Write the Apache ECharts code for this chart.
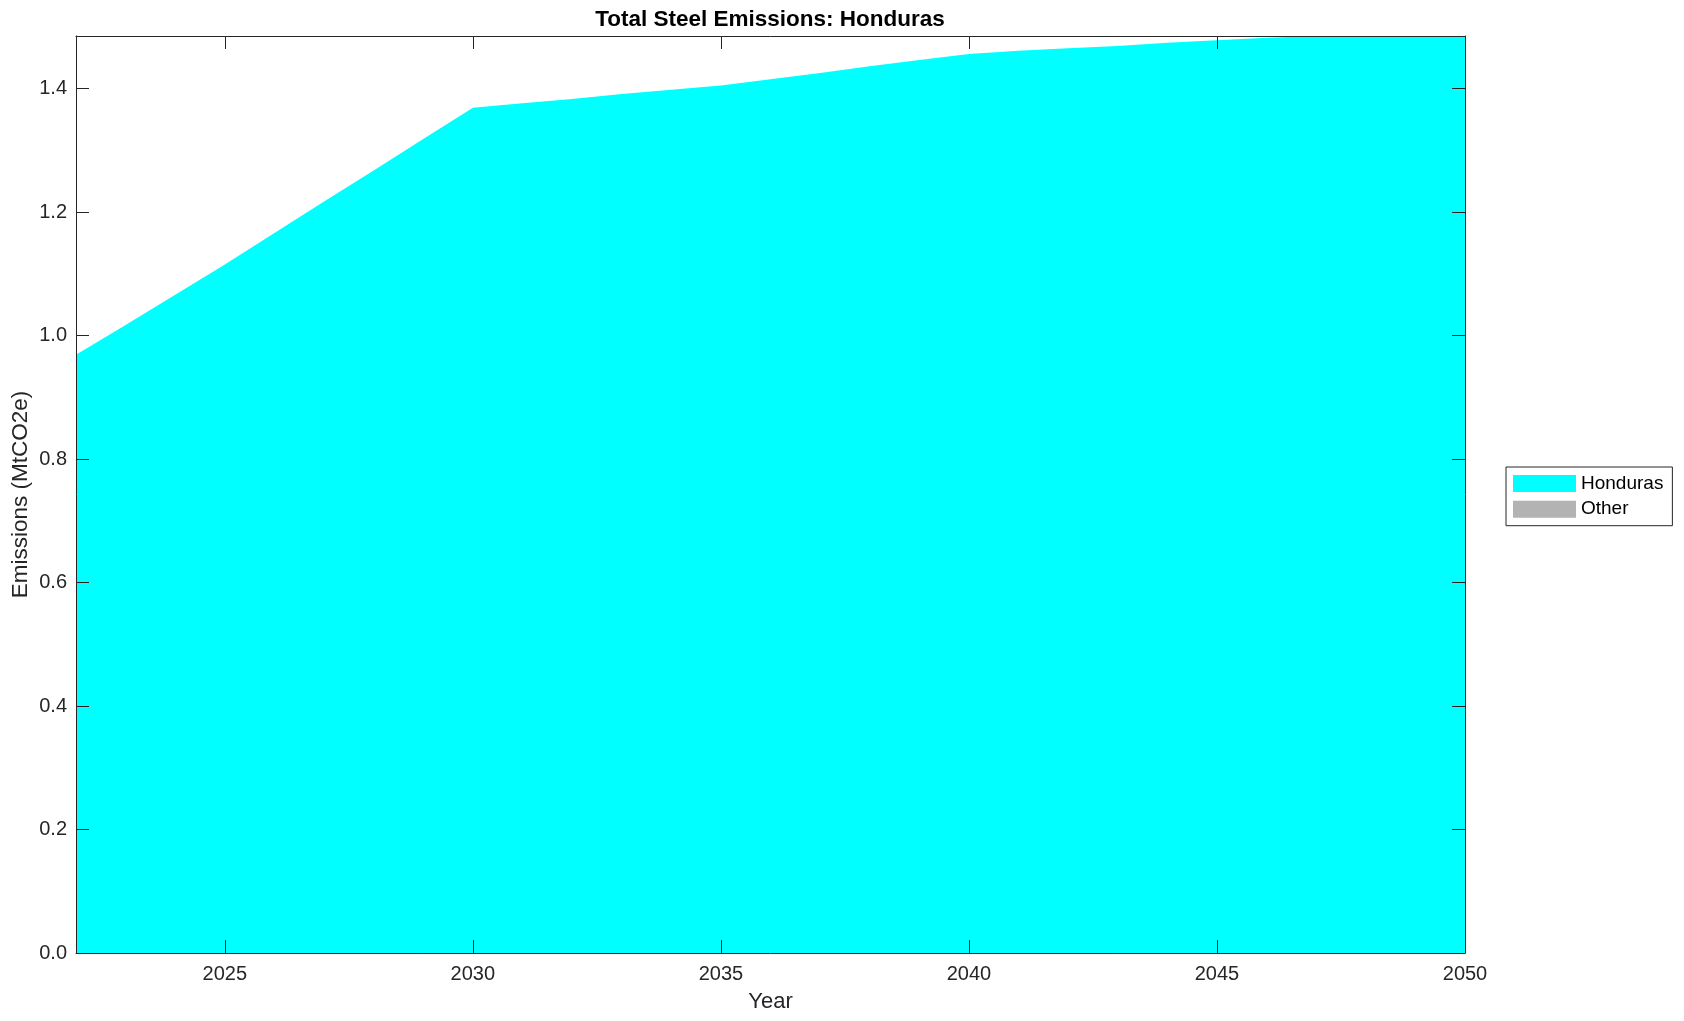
<!DOCTYPE html>
<html>
<head>
<meta charset="utf-8">
<title>Total Steel Emissions: Honduras</title>
<script src="https://cdn.jsdelivr.net/npm/echarts@6/dist/echarts.min.js"></script>
<style>
  html, body { margin: 0; padding: 0; background: #fff; }
  #chart { width: 1684px; height: 1021px; }
</style>
</head>
<body>
<div id="chart"></div>
<script>
// data
const years = [2022, 2023, 2024, 2025, 2026, 2027, 2028, 2029, 2030, 2031, 2032, 2033, 2034, 2035,
  2036, 2037, 2038, 2039, 2040, 2041, 2042, 2043, 2044, 2045, 2046, 2047, 2048, 2049, 2050];
const honduras = [0.969, 1.017, 1.066, 1.115, 1.166, 1.217, 1.267, 1.318, 1.369, 1.376, 1.383, 1.391, 1.398, 1.405,
  1.415, 1.425, 1.436, 1.446, 1.456, 1.461, 1.465, 1.469, 1.474, 1.478, 1.482, 1.485, 1.485, 1.485, 1.485];
const other = years.map(() => 0);
const xTicks = [2025, 2030, 2035, 2040, 2045, 2050];
const yTicks = [0, 0.2, 0.4, 0.6, 0.8, 1.0, 1.2, 1.4];
const yMax = 1.485;

const axisColor = '#262626';
const font = 'Liberation Sans, Arial, Helvetica, sans-serif';

const pairs = (vals) => years.map((y, i) => [y, vals[i]]);

const chart = echarts.init(document.getElementById('chart'));

// box around the plot: bottom/left carry labels, top/right only ticks
const xBase = {
  type: 'value', min: 2022, max: 2050, z: 10,
  axisLine: { show: true, onZero: false, lineStyle: { color: axisColor, width: 1 } },
  axisTick: { show: true, inside: true, length: 13, customValues: xTicks, lineStyle: { color: axisColor } },
  splitLine: { show: false }
};
const yBase = {
  type: 'value', min: 0, max: yMax, z: 10,
  axisLine: { show: true, onZero: false, lineStyle: { color: axisColor, width: 1 } },
  axisTick: { show: true, inside: true, length: 13, customValues: yTicks, lineStyle: { color: axisColor } },
  splitLine: { show: false }
};

const option = {
  animation: false,
  backgroundColor: '#fff',
  textStyle: { fontFamily: font },
  grid: { left: 76, right: 219, top: 36, bottom: 68, containLabel: false, outerBoundsMode: 'none' },
  graphic: [{
    type: 'text', x: 770, y: 20,
    style: {
      text: 'Total Steel Emissions: Honduras', align: 'center', verticalAlign: 'middle',
      fontFamily: font, fontSize: 22.5, fontWeight: 'bold', fill: '#000'
    }
  }],
  legend: {
    orient: 'vertical', left: 1506, top: 467,
    itemWidth: 63, itemHeight: 17, itemGap: 6.7,
    padding: [7, 9, 7, 7],
    borderColor: axisColor, borderWidth: 1, backgroundColor: '#fff',
    icon: 'rect',
    textStyle: { fontFamily: font, fontSize: 19, color: '#000' },
    data: ['Honduras', 'Other']
  },
  xAxis: [
    Object.assign({}, xBase, {
      position: 'bottom',
      name: 'Year', nameLocation: 'middle', nameGap: 38, nameMoveOverlap: false,
      nameTextStyle: { fontFamily: font, fontSize: 22, color: axisColor },
      axisLabel: {
        show: true, customValues: xTicks, margin: 11, fontFamily: font, fontSize: 20, color: axisColor,
        formatter: (v) => String(v)
      }
    }),
    Object.assign({}, xBase, { position: 'top', axisLabel: { show: false } })
  ],
  yAxis: [
    Object.assign({}, yBase, {
      position: 'left',
      name: 'Emissions (MtCO2e)', nameLocation: 'middle', nameGap: 44, nameMoveOverlap: false,
      nameTextStyle: { fontFamily: font, fontSize: 22.5, color: axisColor },
      axisLabel: {
        show: true, customValues: yTicks, margin: 9, fontFamily: font, fontSize: 20, color: axisColor,
        formatter: (v) => v.toFixed(1)
      }
    }),
    Object.assign({}, yBase, { position: 'right', axisLabel: { show: false } })
  ],
  series: [
    {
      name: 'Honduras', type: 'line', stack: 'total',
      data: pairs(honduras),
      showSymbol: false, symbol: 'none',
      itemStyle: { color: '#00FFFF' },
      lineStyle: { width: 0, color: '#00FFFF' },
      areaStyle: { color: '#00FFFF', opacity: 1 }
    },
    {
      name: 'Other', type: 'line', stack: 'total',
      data: pairs(other),
      showSymbol: false, symbol: 'none',
      itemStyle: { color: '#B3B3B3' },
      lineStyle: { width: 0, color: '#B3B3B3' },
      areaStyle: { color: '#B3B3B3', opacity: 1 }
    }
  ]
};

chart.setOption(option);
</script>
</body>
</html>
